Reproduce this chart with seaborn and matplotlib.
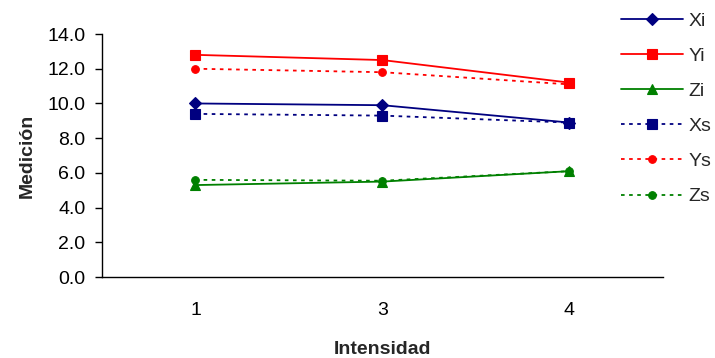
import matplotlib
matplotlib.use("Agg")
import matplotlib.pyplot as plt
import seaborn as sns
import pandas as pd
from matplotlib.ticker import FixedLocator, FormatStrFormatter

# Measurements per intensity level
intensidad = ["1", "3", "4"]
xi = [10.0, 9.9, 8.9]
yi = [12.8, 12.5, 11.2]
zi = [5.3, 5.5, 6.1]
xs = [9.4, 9.3, 8.9]
ys = [12.0, 11.8, 11.1]
zs = [5.6, 5.55, 6.1]

series_names = ["Xi", "Yi", "Zi", "Xs", "Ys", "Zs"]
series_values = [xi, yi, zi, xs, ys, zs]

NAVY, RED, GREEN = "#000080", "#FF0000", "#008000"
styles = {
    "Xi": dict(color=NAVY, marker="D", ls="-", ms=6.0),
    "Yi": dict(color=RED, marker="s", ls="-", ms=6.5),
    "Zi": dict(color=GREEN, marker="^", ls="-", ms=7.0),
    "Xs": dict(color=NAVY, marker="s", ls=(0, (2, 2.5)), ms=6.5),
    "Ys": dict(color=RED, marker="o", ls=(0, (2, 2.5)), ms=5.5),
    "Zs": dict(color=GREEN, marker="o", ls=(0, (2, 2.5)), ms=5.5),
}

sns.set_theme(style="white")
plt.rcParams["font.family"] = ["Liberation Sans", "DejaVu Sans"]

fig = plt.figure(figsize=(7.15, 3.58), dpi=100)
ax = fig.add_axes([0.1427, 0.226, 0.7843, 0.679])

rows = []
for name, vals in zip(series_names, series_values):
    for c, v in zip(intensidad, vals):
        rows.append({"Intensidad": c, "Medición": v, "serie": name})
df = pd.DataFrame(rows)

for name in series_names:
    st = styles[name]
    sns.lineplot(
        data=df[df["serie"] == name], x="Intensidad", y="Medición",
        color=st["color"], marker=st["marker"], markersize=st["ms"],
        markeredgecolor=st["color"], markeredgewidth=0.8,
        linestyle=st["ls"], linewidth=1.3, label=name, ax=ax, sort=False,
    )

ax.set_xlim(-0.5, 2.5)
ax.set_ylim(0, 14)
ax.yaxis.set_major_locator(FixedLocator([0, 2, 4, 6, 8, 10, 12, 14]))
ax.yaxis.set_major_formatter(FormatStrFormatter("%.1f"))

# Category labels at centres, tick marks at category boundaries
ax.set_xticks([0, 1, 2])
ax.set_xticklabels(intensidad)
ax.set_xticks([-0.5, 0.5, 1.5, 2.5], minor=True)
ax.tick_params(axis="x", which="major", length=0, pad=18, labelsize=14, colors="black")
ax.tick_params(axis="x", which="minor", length=5, width=1, color="black", direction="out")
ax.tick_params(axis="y", which="major", length=5, width=1, color="black", direction="out",
               labelsize=14, pad=7, labelcolor="black", left=True)

for side in ["top", "right"]:
    ax.spines[side].set_visible(False)
for side in ["left", "bottom"]:
    ax.spines[side].set_color("black")
    ax.spines[side].set_linewidth(1.0)

ax.set_xlabel("Intensidad", fontsize=14, fontweight="bold", labelpad=16)
ax.set_ylabel("Medición", fontsize=14, fontweight="bold", labelpad=8)
ax.grid(False)

handles, labels = ax.get_legend_handles_labels()
ax.get_legend().remove()
fig.legend(handles, labels, loc="upper left", bbox_to_anchor=(0.855, 0.993),
           frameon=False, fontsize=14, handlelength=3.2, handletextpad=0.25,
           labelspacing=0.9, borderaxespad=0.3, borderpad=0.2)

fig.savefig("out.png", dpi=100)
